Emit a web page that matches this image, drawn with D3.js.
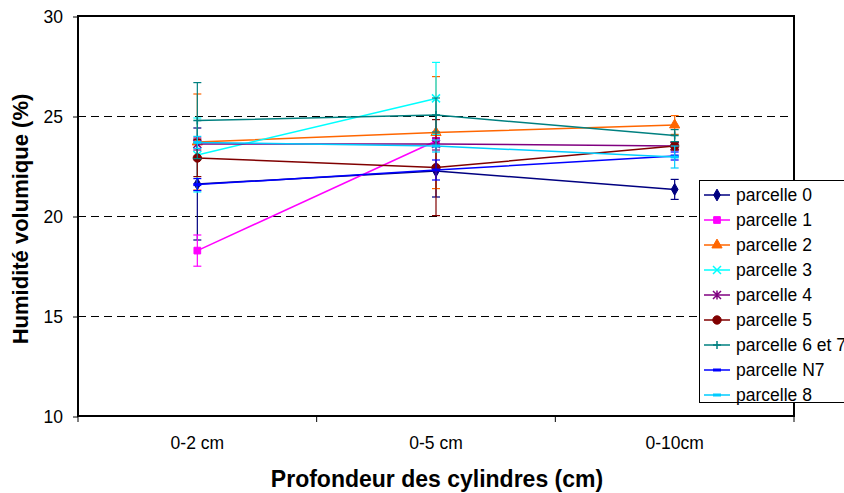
<!DOCTYPE html>
<html>
<head>
<meta charset="utf-8">
<script src="https://cdn.jsdelivr.net/npm/d3@7"></script>
<style>
  body { margin: 0; background: #fff; }
  svg { font-family: "Liberation Sans", Arial, sans-serif; }
</style>
</head>
<body>
<div id="chart"></div>
<script>
const categories = ['0-2 cm', '0-5 cm', '0-10cm'];
const yTicks = [10, 15, 20, 25, 30];
const seriesNames = ['parcelle 0', 'parcelle 1', 'parcelle 2', 'parcelle 3', 'parcelle 4',
                     'parcelle 5', 'parcelle 6 et 7', 'parcelle N7', 'parcelle 8'];
// mean values per depth (null = missing)
const values = [
  [21.6, 22.25, 21.33],
  [18.27, 23.75, null],
  [23.7, 24.17, 24.55],
  [23.05, 25.88, null],
  [23.6, 23.6, 23.5],
  [22.9, 22.42, 23.5],
  [24.77, 25.05, 24.02],
  [21.57, 22.3, 23.0],
  [23.68, 23.5, 22.95]
];
// error bar half-lengths
const errors = [
  [2.8, 1.3, 0.5],
  [0.78, 0.3, null],
  [2.4, 2.8, 0.47],
  [1.85, 1.8, null],
  [0.3, 0.3, 0.2],
  [0.93, 2.4, 0.2],
  [1.9, 0.85, 0.3],
  [0.3, 0.5, 0.2],
  [0.3, 0.3, 0.55]
];
const colors = ['#000080', '#ff00ff', '#ff6600', '#00ffff', '#800080',
                '#800000', '#008080', '#0000ff', '#00ccff'];
const markers = ['diamond', 'square', 'triangle', 'x', 'star', 'circle', 'plus', 'dash', 'dash'];

const W = 844, H = 493;
const x0 = 78, x1 = 794, y0 = 416, y1 = 16;

const svg = d3.select('#chart').append('svg')
  .attr('width', W).attr('height', H);

const x = d3.scaleBand().domain(categories).range([x0, x1]);
const y = d3.scaleLinear().domain([10, 30]).range([y0, y1]);

// dashed gridlines
svg.append('g').selectAll('line')
  .data(yTicks.filter(t => t > 10 && t < 30))
  .enter().append('line')
  .attr('x1', x0).attr('x2', x1)
  .attr('y1', d => y(d) + 0.5).attr('y2', d => y(d) + 0.5)
  .attr('stroke', '#000').attr('stroke-width', 1)
  .attr('stroke-dasharray', '8,5');

// y axis
const yAxis = svg.append('g')
  .attr('transform', `translate(${x0},0.5)`)
  .call(d3.axisLeft(y).tickValues(yTicks).tickSize(5).tickPadding(10));
yAxis.select('.domain').remove();
yAxis.selectAll('text').attr('font-size', 17.5).attr('fill', '#000')
  .attr('font-family', '"Liberation Sans", Arial, sans-serif');
yAxis.selectAll('line').attr('stroke', '#000');

// x axis ticks at band boundaries
const xAxis = svg.append('g').attr('transform', `translate(0,${y0})`);
xAxis.selectAll('line')
  .data(categories.map(c => x(c)).concat([x1]))
  .enter().append('line')
  .attr('x1', d => d).attr('x2', d => d)
  .attr('y1', 0).attr('y2', 6)
  .attr('stroke', '#000');
xAxis.selectAll('text')
  .data(categories)
  .enter().append('text')
  .attr('x', d => x(d) + x.bandwidth() / 2)
  .attr('y', 33)
  .attr('text-anchor', 'middle')
  .attr('font-size', 17.5)
  .text(d => d);

// series
const cx = (i) => x(categories[i]) + x.bandwidth() / 2;

const symbolFor = (m) => {
  if (m === 'diamond') return d3.symbol().type(d3.symbolDiamond).size(40)();
  if (m === 'square') return d3.symbol().type(d3.symbolSquare).size(45)();
  if (m === 'triangle') return d3.symbol().type(d3.symbolTriangle).size(45)();
  if (m === 'circle') return d3.symbol().type(d3.symbolCircle).size(55)();
  return null;
};

const drawMarker = (g, m, color, px, py) => {
  const p = symbolFor(m);
  if (p) {
    g.append('path').attr('d', p)
      .attr('transform', `translate(${px},${py})`)
      .attr('fill', color).attr('stroke', color).attr('stroke-width', 1);
  } else if (m === 'x') {
    g.append('path').attr('d', 'M-4,-4L4,4M-4,4L4,-4')
      .attr('transform', `translate(${px},${py})`)
      .attr('stroke', color).attr('stroke-width', 1.5).attr('fill', 'none');
  } else if (m === 'star') {
    g.append('path').attr('d', 'M-4,-4L4,4M-4,4L4,-4M0,-4.5L0,4.5')
      .attr('transform', `translate(${px},${py})`)
      .attr('stroke', color).attr('stroke-width', 1.5).attr('fill', 'none');
  } else if (m === 'plus') {
    g.append('path').attr('d', 'M-4,0L4,0M0,-4L0,4')
      .attr('transform', `translate(${px},${py})`)
      .attr('stroke', color).attr('stroke-width', 1.5).attr('fill', 'none');
  } else if (m === 'dash') {
    g.append('path').attr('d', 'M-4,0L4,0')
      .attr('transform', `translate(${px},${py})`)
      .attr('stroke', color).attr('stroke-width', 3).attr('fill', 'none');
  }
};

const line = d3.line()
  .defined(d => d.v !== null)
  .x(d => cx(d.i))
  .y(d => y(d.v));

seriesNames.forEach((name, s) => {
  const g = svg.append('g');
  const pts = values[s].map((v, i) => ({v, i, e: errors[s][i]}));
  // error bars
  pts.filter(d => d.v !== null && d.e !== null).forEach(d => {
    const px = cx(d.i);
    g.append('line').attr('x1', px).attr('x2', px)
      .attr('y1', y(d.v - d.e)).attr('y2', y(d.v + d.e))
      .attr('stroke', colors[s]).attr('stroke-width', 1.2);
    [d.v - d.e, d.v + d.e].forEach(ev => {
      g.append('line').attr('x1', px - 4).attr('x2', px + 4)
        .attr('y1', y(ev)).attr('y2', y(ev))
        .attr('stroke', colors[s]).attr('stroke-width', 1.2);
    });
  });
  g.append('path').datum(pts)
    .attr('d', line)
    .attr('fill', 'none')
    .attr('stroke', colors[s]).attr('stroke-width', 1.5);
  pts.filter(d => d.v !== null).forEach(d => drawMarker(g, markers[s], colors[s], cx(d.i), y(d.v)));
});

// plot frame
svg.append('rect')
  .attr('x', x0).attr('y', y1)
  .attr('width', x1 - x0).attr('height', y0 - y1)
  .attr('fill', 'none').attr('stroke', '#000').attr('stroke-width', 2);

// axis titles
svg.append('text')
  .attr('transform', `translate(28,${(y0 + y1) / 2 + 3}) rotate(-90)`)
  .attr('text-anchor', 'middle')
  .attr('font-size', 22).attr('font-weight', 'bold')
  .text('Humidité volumique (%)');
svg.append('text')
  .attr('x', 437).attr('y', 487)
  .attr('text-anchor', 'middle')
  .attr('font-size', 23).attr('font-weight', 'bold')
  .text('Profondeur des cylindres (cm)');

// legend
const legend = svg.append('g');
legend.append('rect')
  .attr('x', 699.5).attr('y', 180.5)
  .attr('width', 160).attr('height', 222)
  .attr('fill', '#fff').attr('stroke', '#000').attr('stroke-width', 1);
seriesNames.forEach((name, s) => {
  const ly = 195 + s * 25;
  legend.append('line').attr('x1', 704).attr('x2', 730)
    .attr('y1', ly).attr('y2', ly)
    .attr('stroke', colors[s]).attr('stroke-width', 1.5);
  drawMarker(legend, markers[s], colors[s], 717, ly);
  legend.append('text')
    .attr('x', 736).attr('y', ly + 6)
    .attr('font-size', 17.5)
    .text(name);
});
</script>
</body>
</html>
